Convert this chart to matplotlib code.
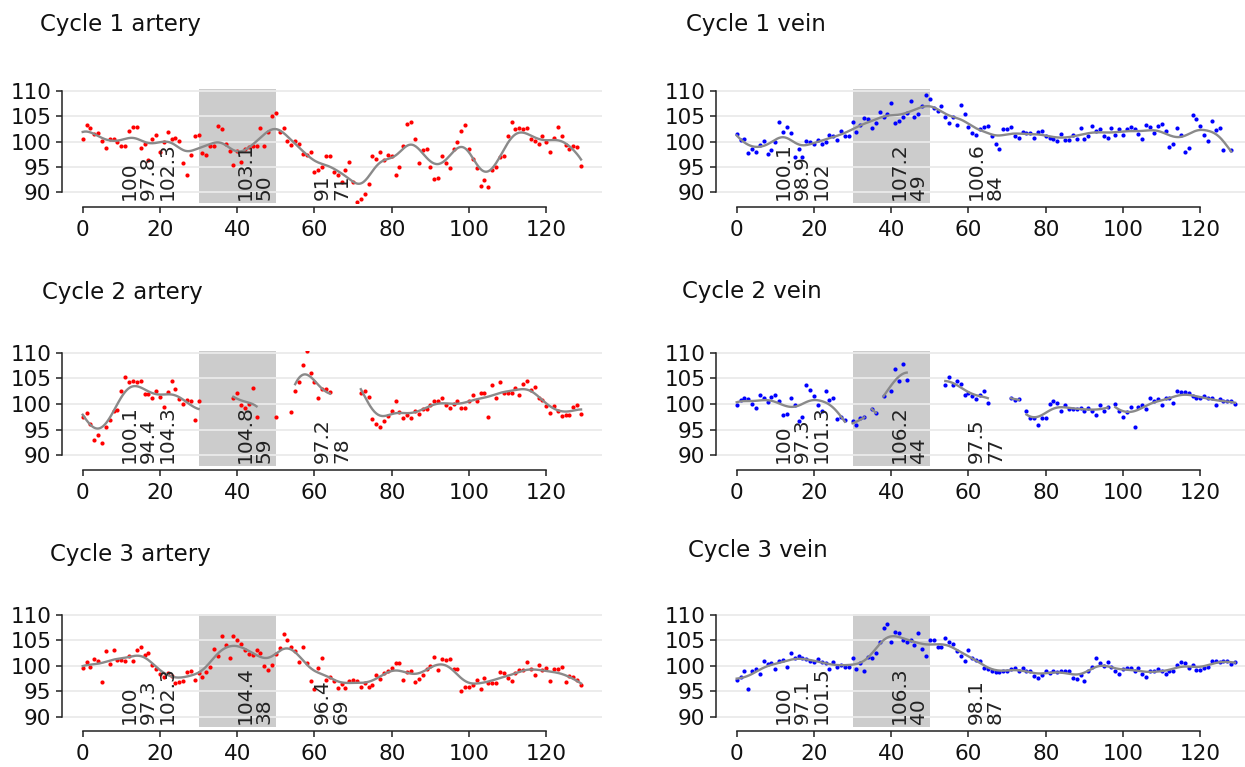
import numpy as np
import matplotlib
matplotlib.use('Agg')
from matplotlib import pyplot as plt

nan = np.nan
aika = np.arange(130)

# mitatut arvot, yksi arvo per aikapiste 0..129 (nan = puuttuu)
valtimo1 = [100.5, 103.2, 102.7, 101.4, 101.6, 100.1, 98.8, 100.5, 100.5, 99.9,
            99.1, 99.1, 102.1, 102.9, 102.9, 98.8, 99.6, 96.4, 100.5, 101.3,
            98.0, 100.0, 101.9, 100.5, 100.8, 100.2, 95.7, 93.5, 97.3, 101.0,
            101.3, 97.7, 97.3, 99.1, 99.2, 103.0, 102.4, 99.6, 98.2, 95.4,
            98.2, 96.0, 98.5, 98.9, 99.2, 99.2, 102.7, 99.2, 101.9, 105.1,
            105.6, 101.9, 102.7, 100.2, 99.3, 100.1, 99.6, 97.5, 97.3, 98.0,
            94.1, 94.4, 95.0, 97.1, 97.1, 94.1, 93.4, 92.0, 94.4, 96.0,
            92.1, 88.2, 88.8, 89.6, 91.6, 97.1, 96.5, 98.0, 96.4, 97.3,
            97.1, 93.5, 95.0, 99.1, 103.4, 103.8, 100.5, 95.7, 98.3, 98.5,
            95.0, 92.6, 92.9, 97.1, 95.8, 94.9, 98.5, 100.0, 102.1, 103.2,
            98.6, 96.5, 94.9, 91.2, 92.4, 91.0, 94.4, 95.0, 96.9, 97.1,
            101.1, 103.8, 102.4, 102.7, 102.4, 102.7, 100.5, 100.2, 99.6, 101.1,
            99.9, 98.0, 100.8, 102.9, 101.1, 99.3, 98.5, 99.1, 98.9, 95.2]

laskimo1 = [101.4, 100.4, 100.5, 97.7, 98.5, 98.0, 99.3, 100.2, 97.5, 98.3,
            100.0, 103.8, 101.9, 102.9, 101.6, 97.0, 98.5, 97.0, 100.2, 99.9,
            99.6, 100.4, 99.6, 100.0, 101.3, 101.1, 100.4, 102.1, 101.1, 101.1,
            103.8, 101.9, 103.2, 104.7, 104.4, 102.6, 103.6, 105.8, 104.9, 105.5,
            107.5, 103.6, 104.1, 104.8, 105.7, 108.0, 104.9, 105.5, 106.9, 109.1,
            108.3, 106.6, 106.1, 106.9, 104.9, 103.6, 104.9, 103.2, 107.2, 105.5,
            102.9, 101.6, 101.3, 102.4, 102.8, 103.0, 101.1, 99.6, 98.5, 102.4,
            102.4, 102.8, 101.1, 100.8, 101.9, 101.6, 101.6, 100.8, 101.9, 102.1,
            101.1, 100.8, 100.6, 100.2, 101.4, 100.3, 100.4, 101.3, 100.5, 102.7,
            100.5, 101.1, 103.0, 102.1, 102.4, 101.1, 100.8, 102.7, 101.3, 102.4,
            101.3, 102.4, 102.8, 102.4, 101.4, 100.6, 103.2, 102.8, 101.6, 103.0,
            103.4, 102.1, 99.0, 99.6, 102.7, 101.3, 98.0, 98.8, 105.2, 104.4,
            103.0, 101.3, 100.2, 104.1, 102.3, 102.7, 98.3, nan, 98.3, nan]

valtimo2 = [97.5, 98.2, 96.2, 93.0, 94.0, 92.5, 95.6, 96.9, 98.6, 98.8,
            102.6, 105.3, 104.2, 104.5, 104.2, 104.5, 102.0, 102.0, 101.2, 102.6,
            101.4, 99.5, 102.4, 104.5, 102.9, 100.9, 100.1, 100.8, 100.6, 96.9,
            100.5, nan, nan, nan, nan, nan, nan, nan, nan, 101.2,
            102.1, 99.9, 99.3, 100.1, 103.2, 97.5, nan, nan, nan, nan,
            97.5, nan, nan, nan, 98.5, 102.5, 104.2, 107.6, 110.3, 106.0,
            104.2, 101.2, 102.9, 102.9, 102.3, nan, nan, nan, nan, nan,
            nan, nan, 102.1, 102.6, 101.4, 97.0, 96.2, 95.6, 96.6, 97.7,
            98.7, 100.6, 98.5, 97.3, 97.9, 97.3, 98.7, 98.1, 99.0, 99.1,
            99.8, 100.5, 100.6, 101.2, 99.8, 99.3, 100.1, 100.6, 99.3, 99.3,
            100.6, 101.8, 100.5, 102.1, 102.1, 97.5, 103.7, 101.1, 104.2, 102.1,
            102.1, 102.1, 103.2, 101.8, 103.9, 104.5, 102.7, 103.4, 101.1, 100.8,
            99.6, 98.2, 99.6, 98.7, 97.7, 97.8, 97.9, 99.5, 99.8, 98.1]

laskimo2 = [99.8, 100.8, 101.2, 101.0, 100.0, 99.2, 101.8, 101.1, 100.4, 101.4,
            101.8, 100.6, 97.9, 98.1, 101.2, 99.8, 96.6, 97.5, 103.7, 102.7,
            101.6, 99.8, 98.7, 102.5, 100.8, 101.2, 97.0, 97.4, 96.8, nan,
            96.6, 95.9, 97.2, 97.4, nan, 99.0, 98.3, nan, 101.6, nan,
            102.5, 106.8, 104.5, 107.9, 104.7, nan, nan, nan, nan, nan,
            nan, nan, nan, nan, 103.7, 105.3, 103.7, 104.5, 103.9, 101.8,
            102.1, 101.6, 100.9, 101.8, 102.6, 100.3, nan, nan, nan, nan,
            nan, 101.2, 100.8, 100.9, nan, 98.7, 97.3, 97.3, 95.9, 97.3,
            97.3, 100.0, 100.6, 100.3, 98.7, 99.8, 99.0, 99.0, 99.0, 99.3,
            98.7, 99.3, 98.7, 97.9, 99.8, 98.7, 99.5, nan, 100.1, 98.7,
            97.5, 98.5, 99.4, 95.6, 99.4, 99.8, 99.0, 101.2, 100.6, 100.9,
            99.8, 101.2, 101.2, 100.3, 102.6, 102.3, 102.4, 102.1, 101.6, 101.2,
            101.1, 101.6, 101.2, 101.1, 99.8, 100.9, 100.6, 100.6, 100.5, 100.1]

valtimo3 = [99.5, 100.7, 99.8, 101.3, 101.0, 96.8, 102.9, 100.4, 103.1, 101.1,
            101.1, 100.9, 102.0, 100.9, 103.1, 103.8, 102.1, 102.5, 100.1, 99.3,
            98.4, 97.9, 98.5, 98.0, 96.6, 96.9, 97.1, 98.7, 99.0, 97.2,
            98.5, 97.9, 98.7, 99.8, 103.4, 102.0, 105.9, 104.1, 101.5, 105.9,
            105.1, 104.3, 103.1, 102.4, 102.1, 103.1, 102.5, 100.0, 99.2, 100.1,
            102.3, 103.6, 106.3, 105.1, 103.8, 102.9, 100.7, 103.8, 100.5, 97.1,
            95.4, 99.5, 101.5, 97.3, 97.9, 97.1, 95.7, 96.4, 95.7, 97.1,
            97.3, 97.1, 95.9, 96.7, 95.9, 96.2, 98.2, 97.5, 98.5, 98.9,
            99.5, 100.5, 100.5, 97.3, 98.7, 99.0, 96.9, 97.5, 98.2, 99.3,
            100.0, 101.8, 99.2, 101.3, 101.1, 101.3, 99.3, 99.3, 95.1, 95.9,
            95.8, 96.2, 97.3, 95.4, 97.7, 96.6, 96.6, 96.6, 98.7, 98.5,
            97.7, 97.1, 98.5, 99.2, 99.2, 100.7, 99.3, 98.2, 100.2, 99.2,
            99.5, 97.1, 99.3, 99.3, 99.8, 96.8, 98.0, 97.9, 97.2, 96.2]

laskimo3 = [97.3, 97.9, 98.9, 95.4, 98.9, 99.3, 98.4, 101.0, 100.4, 100.5,
            99.3, 101.0, 101.1, 99.8, 102.5, 101.5, 101.9, 101.5, 101.3, 101.0,
            100.8, 101.3, 100.8, 100.6, 99.3, 100.7, 99.8, 100.2, 99.8, 99.8,
            101.5, 99.3, 100.5, 99.0, 101.8, 101.5, 102.5, 104.6, 107.4, 108.2,
            104.6, 106.7, 106.4, 105.0, 104.6, 105.1, 104.1, 106.5, 103.4, 101.9,
            105.0, 105.0, 103.8, 103.8, 105.4, 104.6, 104.3, 103.0, 102.0, 101.0,
            103.1, 101.6, 101.1, 101.0, 99.5, 99.3, 98.9, 98.7, 98.7, 99.0,
            99.0, 99.3, 99.6, 99.0, 99.6, 99.0, 98.9, 98.0, 97.7, 98.2,
            99.0, 98.5, 99.0, 98.7, 99.0, 98.9, 98.9, 97.7, 97.5, 98.2,
            97.1, 98.9, 99.7, 101.5, 100.6, 100.0, 100.8, 99.7, 98.9, 98.4,
            99.3, 99.6, 99.6, 99.0, 99.6, 98.4, 97.9, 98.9, 98.9, 99.3,
            98.9, 98.4, 98.9, 98.9, 100.2, 100.7, 100.5, 99.5, 100.2, 99.2,
            99.2, 99.5, 99.8, 101.0, 101.0, 100.8, 101.0, 101.0, 100.4, 100.7]

# jaksot joiden yli tasoitettu käyrä piirretään
jaksot_v1 = [(0, 129)]
jaksot_l1 = [(0, 128)]
jaksot_v2 = [(0, 30), (39, 45), (55, 64), (72, 129)]
jaksot_l2 = [(0, 28), (30, 33), (35, 36), (38, 44), (54, 65), (71, 73), (75, 96), (98, 129)]
jaksot_v3 = [(0, 129)]
jaksot_l3 = [(0, 129)]

# pystyyn kirjoitetut luvut
tekstit_v1 = ['100', '97.8', '102.3', '103.1', '50', '91', '71']
tekstit_l1 = ['100.1', '98.9', '102', '107.2', '49', '100.6', '84']
tekstit_v2 = ['100.1', '94.4', '104.3', '104.8', '59', '97.2', '78']
tekstit_l2 = ['100', '97.3', '101.3', '106.2', '44', '97.5', '77']
tekstit_v3 = ['100', '97.3', '102.3', '104.4', '38', '96.4', '69']
tekstit_l3 = ['100', '97.1', '101.5', '106.3', '40', '98.1', '87']
tekstit_x = [12, 17, 22, 42, 47, 62, 67]

otsikot = ['Cycle 1 artery', 'Cycle 1 vein', 'Cycle 2 artery',
           'Cycle 2 vein', 'Cycle 3 artery', 'Cycle 3 vein']


def tasoita(x, y, xs, kaista=2.5):
    # paikallinen lineaarinen regressio gaussin painoilla
    tulos = []
    for x0 in xs:
        w = np.exp(-0.5 * ((x - x0) / kaista) ** 2)
        X = np.vstack([np.ones_like(x), x - x0]).T
        W = X * w[:, None]
        b = np.linalg.lstsq(W.T @ X, W.T @ y, rcond=None)[0]
        tulos.append(b[0])
    return np.array(tulos)


paneelit = [
    (valtimo1, jaksot_v1, tekstit_v1, 'red'),
    (laskimo1, jaksot_l1, tekstit_l1, 'blue'),
    (valtimo2, jaksot_v2, tekstit_v2, 'red'),
    (laskimo2, jaksot_l2, tekstit_l2, 'blue'),
    (valtimo3, jaksot_v3, tekstit_v3, 'red'),
    (laskimo3, jaksot_l3, tekstit_l3, 'blue'),
]

W, H = 1245, 767
fig = plt.figure(figsize=(W / 100, H / 100), dpi=100)

vasen = [61.7, 715.7]
rivit = [(89.2, 202.6), (351.2, 465.6), (613.5, 726.8)]
otsikko_paikat = [(40, 25), (686, 25), (42, 293), (682, 292), (50, 555), (688, 551)]

for i, (arvot, jaksot, tekstit, vari) in enumerate(paneelit):
    rivi, sarake = divmod(i, 2)
    yla, ala = rivit[rivi]
    ax = fig.add_axes([vasen[sarake] / W, 1 - ala / H, 540 / W, (ala - yla) / H])
    y = np.array(arvot, dtype=float)

    ax.axvspan(30, 50, color='#cccccc', lw=0, zorder=0.2)
    ax.scatter(aika, y, s=9, c=vari, linewidths=0, zorder=2)

    for a, b in jaksot:
        m = (aika >= a) & (aika <= b) & ~np.isnan(y)
        xs = np.linspace(a, b, (b - a) * 4 + 1)
        ax.plot(xs, tasoita(aika[m].astype(float), y[m], xs), color='#8a8a8a', lw=1.7, zorder=3)

    for tx, t in zip(tekstit_x, tekstit):
        ax.text(tx, 88.5, t, rotation=90, ha='center', va='bottom', fontsize=14.5, color='#222222', zorder=4)

    ax.set_xlim(-5.44, 134.35)
    ax.set_ylim(88, 110.3)
    ax.set_xticks(range(0, 121, 20))
    ax.set_yticks([90, 95, 100, 105, 110])
    ax.set_axisbelow(True)
    ax.yaxis.grid(True, color='#ebebeb', lw=1.3)
    for s in ['top', 'right']:
        ax.spines[s].set_visible(False)
    ax.spines['left'].set_bounds(90, 110)
    ax.spines['bottom'].set_bounds(0, 120)
    ax.spines['bottom'].set_position(('outward', 3))
    for s in ['left', 'bottom']:
        ax.spines[s].set_color('#222222')
        ax.spines[s].set_linewidth(1.1)
    ax.tick_params(length=4.5, width=1.1, color='#222222', labelsize=15.5, labelcolor='#111111', pad=3)
    ax.tick_params(axis='x', pad=5)

    ox, oy = otsikko_paikat[i]
    fig.text(ox / W, 1 - oy / H, otsikot[i], fontsize=16.5, ha='left', va='center', color='#111111')

fig.savefig('out.png', dpi=100)
